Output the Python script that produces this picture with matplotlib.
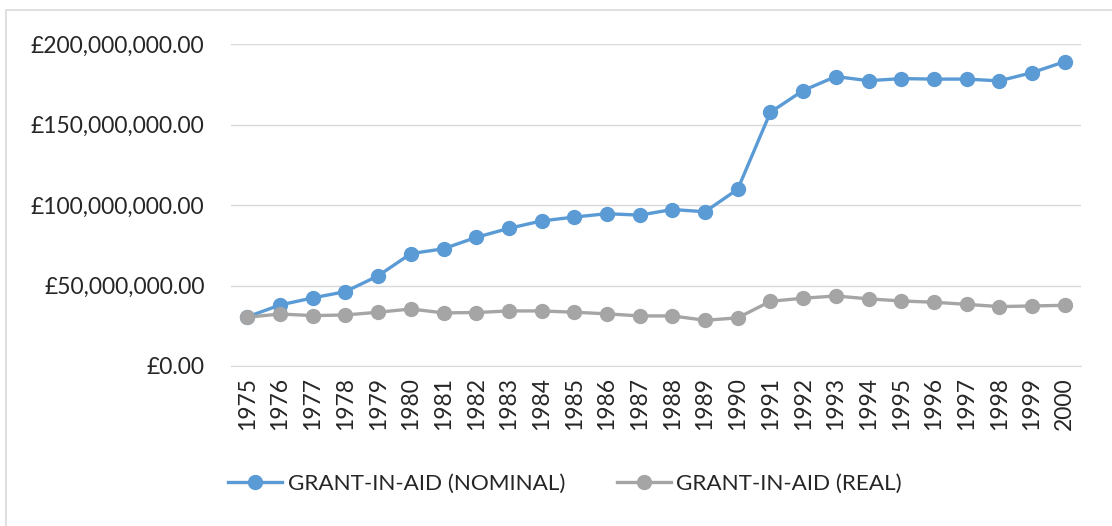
import matplotlib
matplotlib.use("Agg")
import matplotlib.pyplot as plt
from matplotlib.ticker import FuncFormatter
from matplotlib.patches import Rectangle

plt.rcParams['font.family'] = ['Lato', 'DejaVu Sans']

years = list(range(1975, 2001))

# values in millions of pounds
nominal = [30.5, 37.9, 42.3, 46.2, 56.0, 69.8, 72.8, 79.9, 85.5, 90.1,
           92.5, 94.6, 93.7, 97.2, 95.8, 109.8, 157.6, 171.1, 179.8, 177.2,
           178.5, 178.2, 178.2, 177.1, 182.2, 189.0]
real = [30.3, 32.3, 31.3, 31.7, 33.4, 35.4, 33.0, 33.2, 34.2, 34.2,
        33.4, 32.4, 31.1, 31.1, 28.4, 29.9, 40.2, 42.1, 43.5, 41.7,
        40.4, 39.6, 38.3, 36.9, 37.3, 37.7]

labels = ['GRANT-IN-AID (NOMINAL)', 'GRANT-IN-AID (REAL)']
blue = '#5B9BD5'
grey = '#A5A5A5'

fig = plt.figure(figsize=(11.12, 5.26), dpi=100)
ax = fig.add_axes([231/1112, 1-366/526, 850/1112, 322/526])

x = list(range(len(years)))
ax.plot(x, [v*1e6 for v in nominal], '-o', color=blue, lw=2.4, ms=10,
        label=labels[0], zorder=3)
ax.plot(x, [v*1e6 for v in real], '-o', color=grey, lw=2.4, ms=10,
        label=labels[1], zorder=3)

ax.set_xlim(-0.5, len(years)-0.5)
ax.set_ylim(0, 200e6)
ax.set_yticks([0, 50e6, 100e6, 150e6, 200e6])
ax.yaxis.set_major_formatter(FuncFormatter(lambda v, p: '£{:,.2f}'.format(v)))
ax.set_xticks(x)
ax.set_xticklabels([str(y) for y in years], rotation=90)

ax.grid(axis='y', color='#D9D9D9', lw=1)
ax.set_axisbelow(True)
for s in ['top', 'right', 'left']:
    ax.spines[s].set_visible(False)
ax.spines['bottom'].set_color('#D9D9D9')
ax.tick_params(axis='both', length=0, labelsize=16.5, colors='#262626')
ax.tick_params(axis='y', pad=19)
ax.tick_params(axis='x', pad=8)

fig.legend(loc='center', bbox_to_anchor=(565/1112, 1-484/526), ncol=2,
           frameon=False, fontsize=16.2, handlelength=2.4, columnspacing=2.3,
           handletextpad=0.25, labelcolor='#262626')

fig.patches.append(Rectangle((6/1112, -0.1), 1.2, 1-10/526+0.1,
                             transform=fig.transFigure, fill=False,
                             edgecolor='#D9D9D9', lw=1.2))

fig.savefig('out.png', dpi=100)
